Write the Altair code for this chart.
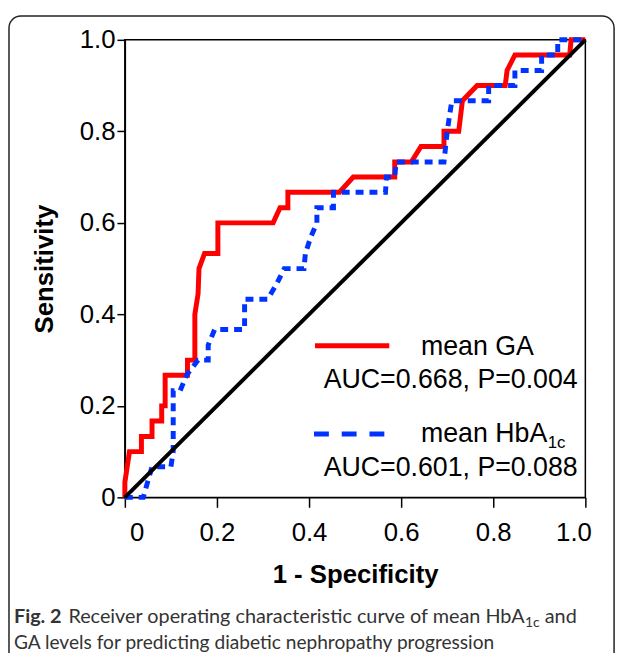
import altair as alt
import pandas as pd

# ROC curve of mean GA (red, solid)
red_fpr = [0, 0, 0.01, 0.036, 0.036, 0.059, 0.059, 0.080, 0.080, 0.0875,
           0.0875, 0.136, 0.136, 0.152, 0.152, 0.159, 0.161, 0.173, 0.202, 0.202,
           0.322, 0.337, 0.354, 0.354, 0.466, 0.496, 0.586, 0.586, 0.622, 0.643,
           0.693, 0.693, 0.725, 0.733, 0.765, 0.826, 0.83, 0.847, 0.966, 0.969,
           1.0]
red_tpr = [0, 0.033, 0.1, 0.1, 0.133, 0.133, 0.167, 0.167, 0.2, 0.2,
           0.267, 0.267, 0.3, 0.3, 0.4, 0.445, 0.5, 0.533, 0.533, 0.6,
           0.6, 0.633, 0.633, 0.667, 0.667, 0.7, 0.7, 0.733, 0.733, 0.767,
           0.767, 0.8, 0.8, 0.867, 0.9, 0.9, 0.933, 0.967, 0.967, 1.0,
           1.0]

# ROC curve of mean HbA1c (blue, dashed)
blue_fpr = [0, 0.04, 0.059, 0.1, 0.105, 0.105, 0.12, 0.134, 0.159, 0.181,
            0.181, 0.195, 0.26, 0.26, 0.31, 0.33, 0.346, 0.389, 0.392, 0.403,
            0.417, 0.417, 0.453, 0.453, 0.566, 0.568, 0.586, 0.589, 0.693, 0.70,
            0.71, 0.79, 0.79, 0.847, 0.847, 0.905, 0.905, 0.94, 0.94, 1.0]
blue_tpr = [0, 0, 0.067, 0.067, 0.1, 0.233, 0.233, 0.267, 0.3, 0.3,
            0.333, 0.367, 0.367, 0.433, 0.433, 0.467, 0.5, 0.5, 0.533, 0.567,
            0.6, 0.633, 0.633, 0.667, 0.667, 0.7, 0.7, 0.733, 0.733, 0.8,
            0.867, 0.867, 0.9, 0.9, 0.933, 0.933, 0.967, 0.967, 1.0, 1.0]

# reference line
diag_x = [0, 1]
diag_y = [0, 1]

x_ticks = [0, 0.2, 0.4, 0.6, 0.8, 1.0]
y_ticks = [0, 0.2, 0.4, 0.6, 0.8, 1.0]

x_title = "1 - Specificity"
y_title = "Sensitivity"

legend_names = ["mean GA", "mean HbA"]
legend_sub = "1c"
legend_stats = ["AUC=0.668, P=0.004", "AUC=0.601, P=0.088"]

caption_bold = "Fig. 2"
caption_line1 = "Receiver operating characteristic curve of mean HbA"
caption_sub = "1c"
caption_end = "and"
caption_line2 = "GA levels for predicting diabetic nephropathy progression"

RED = "#ff0000"
BLUE = "#0033ff"
FONT = "Liberation Sans"
CAP_FONT = "Lato"
W, H = 465, 462

red_df = pd.DataFrame({"fpr": red_fpr, "tpr": red_tpr, "i": list(range(len(red_fpr)))})
blue_df = pd.DataFrame({"fpr": blue_fpr, "tpr": blue_tpr, "i": list(range(len(blue_fpr)))})
diag_df = pd.DataFrame({"fpr": diag_x, "tpr": diag_y, "i": [0, 1]})
one = pd.DataFrame({"a": [0]})

label_expr = "datum.value == 0 ? '0' : format(datum.value, '.1f')"

x_axis = alt.Axis(
    values=x_ticks, labelExpr=label_expr, title=x_title, grid=False,
    labelFlush=False,
    labelFont=FONT, labelFontSize=26, labelColor="black", labelPadding=13,
    labelOffset={"condition": [{"test": "datum.value == 0", "value": 12},
                               {"test": "datum.value == 1", "value": -12}],
                 "value": 0},
    tickSize=10, tickColor="black", tickWidth=1.5,
    domainColor="black", domainWidth=1.5,
    titleFont=FONT, titleFontSize=26, titleFontWeight="bold", titleColor="black",
    titleX=W / 2, titleY=78, titleBaseline="middle", titleAlign="center",
)
y_axis = alt.Axis(
    values=y_ticks, labelExpr=label_expr, title=y_title, grid=False,
    labelFlush=False,
    labelFont=FONT, labelFontSize=26, labelColor="black", labelPadding=2,
    tickSize=8, tickColor="black", tickWidth=1.5,
    domainColor="black", domainWidth=1.5,
    titleFont=FONT, titleFontSize=26, titleFontWeight="bold", titleColor="black",
    titleAngle=270, titleX=-81, titleY=H / 2, titleBaseline="middle", titleAlign="center",
)

xs = alt.Scale(domain=[0, 1], nice=False, zero=False)
ys = alt.Scale(domain=[0, 1], nice=False, zero=False)

red = alt.Chart(red_df).mark_line(color=RED, strokeWidth=5, strokeJoin="miter").encode(
    x=alt.X("fpr:Q", scale=xs, axis=x_axis),
    y=alt.Y("tpr:Q", scale=ys, axis=y_axis),
    order="i:Q",
)
blue = alt.Chart(blue_df).mark_line(color=BLUE, strokeWidth=5, strokeDash=[8, 6]).encode(
    x=alt.X("fpr:Q", scale=xs), y=alt.Y("tpr:Q", scale=ys), order="i:Q",
)
diag = alt.Chart(diag_df).mark_line(color="black", strokeWidth=4).encode(
    x=alt.X("fpr:Q", scale=xs), y=alt.Y("tpr:Q", scale=ys), order="i:Q",
)

# legend (drawn inside plot, lower right)
leg_red = alt.Chart(one).mark_rule(color=RED, strokeWidth=5).encode(
    x=alt.value(192), x2=alt.value(267), y=alt.value(309))
leg_blue = alt.Chart(one).mark_rule(color=BLUE, strokeWidth=5, strokeDash=[15, 13]).encode(
    x=alt.value(191), x2=alt.value(266), y=alt.value(398))


def txt(s, x, y, size=27, align="left", weight="normal", font=FONT, color="black"):
    return alt.Chart(one).mark_text(
        text=s, align=align, baseline="middle", font=font, fontSize=size,
        fontWeight=weight, color=color,
    ).encode(x=alt.value(x), y=alt.value(y))


legend = [
    txt(legend_names[0], 299, 310),
    txt(legend_stats[0], 329, 344, align="center"),
    txt(legend_names[1], 299, 398),
    txt(legend_sub, 427, 407, size=17),
    txt(legend_stats[1], 329, 432, align="center"),
]

CAPC = "#333333"
caption = [
    txt(caption_bold, -112, 583, size=20, weight="bold", font=CAP_FONT, color=CAPC),
    txt(caption_line1, -57, 583, size=20, font=CAP_FONT, color=CAPC),
    txt(caption_sub, 404, 589, size=14, font=CAP_FONT, color=CAPC),
    txt(caption_end, 424, 583, size=20, font=CAP_FONT, color=CAPC),
    txt(caption_line2, -112, 609, size=19.3, font=CAP_FONT, color=CAPC),
]

frame = alt.Chart(one).mark_rect(
    fillOpacity=0, stroke="#222222", strokeWidth=1.5, cornerRadius=12
).encode(x=alt.value(-117), x2=alt.value(494), y=alt.value(-24), y2=alt.value(640))

chart = alt.layer(
    red, blue, diag, leg_red, leg_blue, *legend, *caption, frame
).properties(
    width=W, height=H,
    autosize=alt.AutoSizeParams(type="none"),
    padding={"left": 118, "top": 29, "right": 37, "bottom": 154},
    background="white",
).configure_view(stroke="black", strokeWidth=1.5)

chart.save("out.html", embed_options={"renderer": "svg", "actions": False})
